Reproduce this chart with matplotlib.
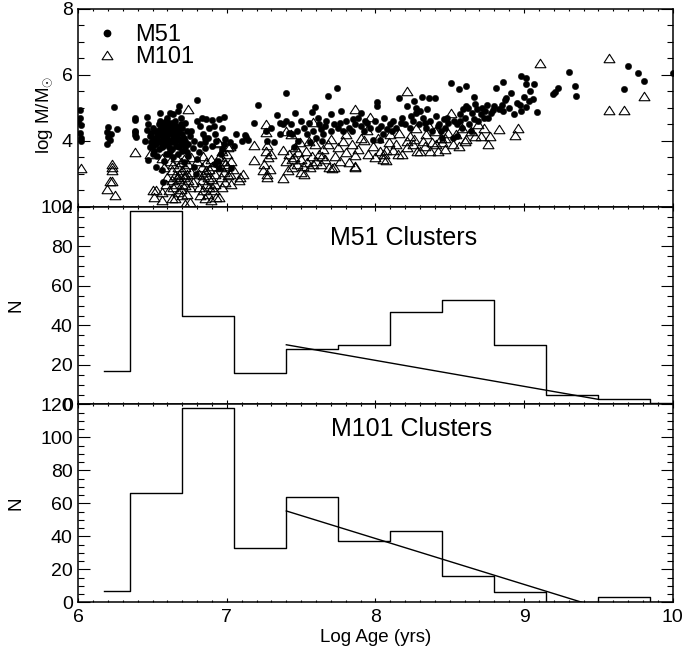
import matplotlib
matplotlib.use("Agg")
import matplotlib.pyplot as plt
from matplotlib.ticker import MultipleLocator
from matplotlib.path import Path
from matplotlib.lines import Line2D

plt.rcParams['font.family'] = ['Liberation Sans', 'DejaVu Sans']
plt.rcParams['mathtext.fontset'] = 'custom'
plt.rcParams['mathtext.rm'] = 'Liberation Sans'

# ---------------- data ----------------
# M51 clusters: log age, log mass
m51_age = [6.01, 6.01, 6.02, 6.01, 6.02, 6.02, 6.00,
           6.19, 6.20, 6.19, 6.21, 6.20, 6.24, 6.26, 6.22,
           6.38, 6.38, 6.38, 6.39, 6.38, 6.38,
           6.46, 6.46, 6.47, 6.48, 6.49, 6.50, 6.50, 6.51, 6.52, 6.52, 6.53, 6.53, 6.54, 6.54,
           6.55, 6.55, 6.55, 6.56, 6.56, 6.57, 6.57, 6.57, 6.58, 6.58, 6.59, 6.59, 6.60, 6.60,
           6.60, 6.61, 6.61, 6.62, 6.62, 6.62, 6.63, 6.63, 6.63, 6.64, 6.64, 6.64, 6.65, 6.65,
           6.65, 6.66, 6.66, 6.66, 6.67, 6.67, 6.67, 6.68, 6.68, 6.68, 6.69, 6.69, 6.70, 6.70,
           6.71, 6.71, 6.72, 6.72, 6.73, 6.74, 6.74, 6.75, 6.58, 6.53, 6.49, 6.45, 6.47, 6.60,
           6.62, 6.55,
           6.48, 6.50, 6.51, 6.52, 6.54, 6.56, 6.57, 6.59, 6.61, 6.63, 6.64, 6.66, 6.68, 6.69,
           6.70, 6.72, 6.73, 6.58, 6.62, 6.66, 6.55, 6.70, 6.60, 6.50, 6.56,
           6.80, 6.77, 6.78, 6.79, 6.80, 6.81, 6.82, 6.83, 6.84, 6.85, 6.85, 6.85, 6.86, 6.87,
           6.88, 6.78, 6.82, 6.76, 6.80,
           6.90, 6.90, 6.92, 6.93, 6.95, 6.95, 6.96, 6.97, 6.98, 6.98, 6.94, 6.92, 6.97, 6.99, 6.91,
           7.02, 7.03, 7.06, 7.12, 7.14, 7.13, 7.21, 7.18, 7.10, 7.05,
           7.26, 7.27, 7.30, 7.34, 7.36, 7.38, 7.40, 7.40, 7.42, 7.43, 7.44, 7.46, 7.47, 7.48,
           7.36, 7.32, 7.45,
           7.52, 7.54, 7.55, 7.57, 7.59, 7.58, 7.60, 7.62, 7.63, 7.65, 7.66, 7.68, 7.70, 7.70,
           7.72, 7.74, 7.75, 7.77, 7.78, 7.76, 7.64, 7.56, 7.67, 7.61, 7.50,
           7.80, 7.82, 7.84, 7.86, 7.88, 7.90, 7.92, 7.94, 7.96, 7.98, 8.00, 8.01, 8.01, 8.03,
           8.04, 8.06, 8.08, 8.10, 8.12, 8.14, 8.16, 8.18, 8.20, 8.21, 7.90, 8.05,
           7.85, 7.93, 8.02, 8.11, 8.17,
           8.23, 8.25, 8.26, 8.27, 8.27, 8.29, 8.31, 8.32, 8.34, 8.36, 8.37, 8.38, 8.40, 8.41,
           8.43, 8.44, 8.46, 8.47, 8.49, 8.30, 8.35, 8.45, 8.24, 8.33, 8.42, 8.48,
           8.51, 8.52, 8.53, 8.55, 8.55, 8.56, 8.57, 8.58, 8.60, 8.61, 8.61, 8.62, 8.63, 8.65,
           8.66, 8.67, 8.68, 8.69, 8.71, 8.72, 8.74, 8.75, 8.76, 8.78, 8.79, 8.80, 8.64, 8.59,
           8.57, 8.66, 8.73,
           8.81, 8.83, 8.85, 8.86, 8.86, 8.87, 8.88, 8.90, 8.91, 8.93, 8.95, 8.97, 8.98, 8.98,
           9.00, 9.01, 9.01, 9.01, 9.03, 9.06, 9.07, 9.09, 9.04,
           9.195, 9.21, 9.23, 9.30, 9.345, 9.35, 9.67, 9.70, 9.77, 9.81, 10.0]
m51_mass = [4.93, 4.70, 4.48, 4.23, 4.10, 4.00, 4.60,
            4.27, 4.13, 3.90, 4.02, 4.43, 5.03, 4.37, 4.20,
            4.63, 4.27, 4.17, 4.13, 4.68, 4.30,
            4.71, 4.34, 3.41, 3.80, 3.95, 3.85, 4.10, 3.70, 3.20, 3.90, 4.05, 4.20, 4.50, 3.75,
            4.83, 4.35, 3.95, 3.10, 4.15, 4.40, 3.85, 2.75, 4.00, 4.25, 3.60, 4.60, 3.90, 4.10,
            4.45, 3.80, 4.30, 4.00, 4.55, 3.70, 4.20, 4.40, 3.95, 4.80, 4.10, 3.50, 4.30, 4.00,
            4.60, 3.85, 4.45, 4.15, 4.25, 3.60, 4.90, 5.05, 4.05, 4.35, 3.90, 4.50, 4.20, 3.70,
            4.10, 3.35, 4.00, 3.80, 4.30, 3.55, 3.90, 4.15, 3.40, 3.55, 4.25, 4.00, 4.50, 4.70,
            4.85, 4.60,
            4.15, 4.40, 3.95, 4.30, 4.00, 3.80, 4.55, 4.15, 3.60, 3.75, 4.55, 4.00, 3.80, 4.70,
            4.40, 4.55, 3.65, 3.95, 4.25, 4.30, 4.20, 3.95, 4.35, 3.60, 4.45,
            5.24, 3.77, 3.20, 3.00, 3.45, 3.65, 4.45, 4.68, 4.22, 4.10, 3.97, 3.77, 4.65, 4.10,
            4.40, 4.00, 3.90, 4.30, 4.60,
            4.63, 3.85, 4.20, 4.00, 4.67, 3.16, 3.60, 4.38, 4.73, 3.90, 3.40, 3.30, 3.75, 4.05, 4.45,
            3.97, 3.16, 4.22, 4.17, 4.02, 4.12, 5.08, 4.53, 4.00, 3.85,
            4.30, 4.00, 4.40, 4.78, 4.55, 4.50, 5.44, 4.60, 4.25, 4.50, 4.20, 4.83, 4.30, 4.00,
            4.20, 3.95, 3.80,
            4.40, 4.20, 4.55, 4.88, 5.03, 4.30, 4.10, 4.50, 4.35, 4.20, 4.45, 5.37, 4.80, 4.30,
            4.50, 5.59, 4.40, 4.90, 4.30, 4.55, 4.00, 3.95, 4.60, 4.70, 4.60,
            4.60, 4.40, 4.30, 4.50, 4.70, 4.45, 4.30, 4.55, 4.40, 4.02, 4.60, 5.18, 5.06, 4.03,
            4.45, 4.70, 4.35, 4.50, 4.60, 4.40, 5.29, 4.70, 4.50, 5.05, 4.85, 4.20,
            4.65, 4.60, 4.35, 4.30, 4.55,
            4.40, 4.60, 5.20, 5.00, 4.85, 4.50, 5.33, 4.70, 4.40, 5.30, 4.60, 4.30, 5.30, 4.75,
            4.50, 4.30, 4.65, 4.40, 4.55, 4.90, 4.95, 4.10, 4.75, 4.55, 4.45, 4.70,
            5.74, 4.10, 4.60, 4.50, 4.15, 5.58, 4.80, 4.40, 4.70, 5.67, 5.06, 5.00, 4.50, 4.85,
            5.34, 5.12, 4.97, 4.60, 4.80, 5.00, 4.90, 5.10, 4.70, 4.85, 4.93, 5.05, 4.30, 4.95,
            4.60, 4.65, 4.70,
            5.60, 4.95, 5.10, 5.78, 4.90, 5.23, 5.31, 5.00, 5.46, 4.80, 5.15, 5.10, 4.90, 5.97,
            5.34, 5.90, 5.71, 5.03, 5.20, 5.26, 5.72, 4.86, 5.50,
            5.42, 5.47, 5.61, 6.10, 5.67, 5.36, 5.58, 6.28, 6.07, 5.82, 6.07]

# M101 clusters: log age, log mass
m101_age = [6.02,
            6.19, 6.21, 6.23, 6.25, 6.23, 6.23, 6.23,
            6.38, 6.48, 6.52, 6.56, 6.56, 6.63, 6.72, 6.74, 6.50, 6.51, 6.56, 6.60,
            6.62, 6.63, 6.63, 6.64, 6.64, 6.65, 6.65, 6.66, 6.66, 6.67, 6.67, 6.68, 6.68, 6.69,
            6.69, 6.70, 6.70, 6.71, 6.71, 6.72, 6.72, 6.73, 6.73, 6.74, 6.74, 6.75, 6.75, 6.76,
            6.76, 6.77, 6.60, 6.61, 6.58, 6.59, 6.67, 6.70, 6.72,
            6.80, 6.81, 6.81, 6.82, 6.83, 6.83, 6.84, 6.84, 6.85, 6.85, 6.86, 6.86, 6.87, 6.87,
            6.88, 6.88, 6.89, 6.89, 6.90, 6.90, 6.91, 6.92, 6.92, 6.93, 6.93, 6.86, 6.90, 6.84,
            6.94, 6.95, 6.95, 6.96, 6.96, 6.97, 6.97, 6.98, 6.98, 6.99, 7.00, 7.00, 7.01, 7.01,
            7.02, 7.02, 7.03, 7.03, 6.95, 7.04, 6.99,
            7.08, 7.09, 7.11, 7.18, 7.18, 7.26, 7.26, 7.26, 7.27, 7.27, 7.27, 7.25, 7.28, 7.29,
            7.30, 7.24,
            7.38, 7.38, 7.40, 7.43, 7.40, 7.42, 7.44, 7.45, 7.46, 7.47, 7.48, 7.50, 7.50, 7.52,
            7.53, 7.54, 7.56, 7.57, 7.58, 7.59, 7.60, 7.55, 7.49, 7.41, 7.44, 7.51, 7.58,
            7.62, 7.63, 7.65, 7.66, 7.68, 7.69, 7.71, 7.72, 7.73, 7.75, 7.76, 7.78, 7.80, 7.82,
            7.84, 7.86, 7.86, 7.86, 7.86, 7.88, 7.90, 7.70, 7.80, 7.64,
            7.92, 7.94, 7.96, 7.95, 7.98, 8.00, 8.02, 8.05, 8.06, 8.07, 8.07, 8.09, 8.10, 8.12,
            8.14, 8.16, 8.18, 8.21, 8.21, 8.21, 8.23, 8.25, 8.27, 8.28, 8.03, 8.15, 8.26,
            8.30, 8.32, 8.34, 8.37, 8.38, 8.40, 8.42, 8.44, 8.45, 8.47, 8.47, 8.49, 8.51, 8.52,
            8.54, 8.56, 8.58, 8.60, 8.61, 8.36, 8.33, 8.41,
            8.64, 8.67, 8.71, 8.76, 8.77, 8.83, 8.94, 8.96, 8.69, 8.73,
            9.11, 9.57, 9.57, 9.67, 9.81]
m101_mass = [3.16,
             2.55, 2.77, 2.77, 2.35, 3.30, 3.20, 3.10,
             3.67, 3.60, 2.50, 2.45, 2.20, 2.27, 2.09, 4.95, 2.50, 2.30, 3.48, 4.40,
             3.40, 3.10, 2.80, 2.60, 3.30, 2.25, 2.95, 3.50, 2.70, 3.20, 2.45, 3.00, 2.85, 3.35,
             2.55, 3.10, 2.35, 2.90, 3.45, 2.65, 3.20, 3.00, 2.40, 2.80, 3.30, 2.15, 2.60, 3.05,
             3.50, 2.75, 2.90, 2.50, 3.20, 2.70, 2.90, 2.70, 2.95,
             3.40, 3.00, 2.60, 2.35, 3.20, 2.80, 3.55, 2.50, 2.25, 3.05, 2.70, 3.35, 2.90, 2.40,
             3.15, 2.60, 3.45, 2.20, 2.85, 3.25, 2.50, 3.00, 2.70, 3.35, 2.30, 3.10, 2.60, 2.95,
             3.97, 3.92, 3.50, 3.20, 2.90, 3.70, 2.60, 3.40, 3.05, 2.75, 3.60, 3.25, 2.95, 3.80,
             3.85, 3.00, 3.40, 2.70, 2.30, 3.15, 3.30,
             2.80, 2.90, 3.00, 3.87, 3.43, 4.50, 4.27, 3.70, 3.87, 3.00, 2.90, 3.30, 3.50, 3.15,
             3.60, 3.10,
             2.86, 3.72, 4.30, 4.20, 3.40, 3.60, 3.20, 3.50, 3.80, 3.30, 3.65, 3.06, 3.45, 3.00,
             3.70, 3.35, 3.20, 3.55, 4.58, 3.90, 3.40, 4.00, 3.95, 3.10, 3.45, 3.25, 3.30,
             3.60, 3.30, 3.75, 3.45, 3.90, 3.20, 3.16, 3.20, 3.55, 3.80, 3.40, 4.00, 3.65, 3.35,
             3.90, 4.98, 3.24, 3.20, 3.56, 3.75, 4.10, 4.05, 4.20, 3.55,
             4.02, 4.33, 4.73, 3.60, 3.85, 3.50, 4.10, 3.46, 3.60, 3.41, 3.72, 3.95, 4.20, 3.72,
             3.90, 4.25, 3.60, 5.51, 4.00, 3.80, 4.15, 3.90, 4.40, 3.70, 3.70, 3.60, 4.05,
             3.70, 4.00, 4.20, 3.70, 3.95, 4.30, 3.70, 4.10, 3.95, 4.07, 3.74, 4.25, 4.83, 3.90,
             4.20, 3.85, 4.40, 4.00, 4.04, 4.45, 3.85, 3.90,
             4.30, 4.16, 4.15, 3.89, 4.16, 4.36, 4.18, 4.38, 4.50, 4.40,
             6.37, 6.52, 4.93, 4.93, 5.36]

# age histograms (bin centres, bin width 0.35 dex)
bin_centres = [6.175, 6.525, 6.875, 7.225, 7.575, 7.925, 8.275, 8.625, 8.975, 9.325, 9.675, 10.025]
m51_counts = [17, 98, 45, 16, 28, 30, 47, 53, 30, 5, 3, 1]
m101_counts = [7, 66, 118, 33, 64, 37, 43, 16, 6, 0, 3, 0]

# fitted declines
fit_age = [7.40, 9.50]
fit_m51 = [30.2, 2.6]
fit_m101 = [55.4, -3.1]

# ---------------- figure ----------------
fig = plt.figure(figsize=(6.85, 6.54), dpi=100)
left, width = 0.1143, 0.8677
bottom0, h = 0.0791, 0.3024
ax_top = fig.add_axes([left, bottom0 + 2 * h, width, h])
ax_mid = fig.add_axes([left, bottom0 + h, width, h])
ax_bot = fig.add_axes([left, bottom0, width, h])

tri = Path([(-1, -0.78), (1, -0.78), (0, 0.78), (-1, -0.78)],
           [Path.MOVETO, Path.LINETO, Path.LINETO, Path.CLOSEPOLY])

ax_top.plot(m101_age, m101_mass, linestyle='none', marker=tri, markersize=7.8,
            markerfacecolor='none', markeredgecolor='black', markeredgewidth=0.8)
ax_top.plot(m51_age, m51_mass, linestyle='none', marker='o', markersize=4.6,
            markerfacecolor='black', markeredgecolor='black', markeredgewidth=0.3)
ax_top.set_ylim(2, 8)
ax_top.set_ylabel(r'log M/M$_{\odot}$', fontsize=13.5)
ax_top.yaxis.set_label_coords(-0.040, 0.463)

handles = [Line2D([], [], linestyle='none', marker='o', markersize=4.6, color='black'),
           Line2D([], [], linestyle='none', marker=tri, markersize=7.8,
                  markerfacecolor='none', markeredgecolor='black', markeredgewidth=0.8)]
ax_top.legend(handles, ['M51', 'M101'], loc='upper left', bbox_to_anchor=(0.010, 0.97),
              frameon=False, fontsize=17, handlelength=1.1, handletextpad=0.65,
              labelspacing=0.0, borderaxespad=0.0)

ax_mid.step(bin_centres, m51_counts, where='mid', color='black', linewidth=1.0)
ax_mid.plot(fit_age, fit_m51, color='black', linewidth=1.0)
ax_mid.set_ylim(0, 100)
ax_mid.set_ylabel('N', fontsize=13.5)
ax_mid.yaxis.set_label_coords(-0.09, 0.5)
ax_mid.text(0.548, 0.84, 'M51 Clusters', transform=ax_mid.transAxes, fontsize=18,
            ha='center', va='center')

ax_bot.step(bin_centres, m101_counts, where='mid', color='black', linewidth=1.0)
ax_bot.plot(fit_age, fit_m101, color='black', linewidth=1.0)
ax_bot.set_ylim(0, 120)
ax_bot.set_ylabel('N', fontsize=13.5)
ax_bot.yaxis.set_label_coords(-0.09, 0.5)
ax_bot.text(0.561, 0.878, 'M101 Clusters', transform=ax_bot.transAxes, fontsize=18,
            ha='center', va='center')
ax_bot.set_xlabel('Log Age (yrs)', fontsize=13.5, labelpad=2)

for ax, ymaj, ymin in [(ax_top, 2, 0.5), (ax_mid, 20, 5), (ax_bot, 20, 5)]:
    ax.set_xlim(6, 10)
    ax.xaxis.set_major_locator(MultipleLocator(1))
    ax.xaxis.set_minor_locator(MultipleLocator(0.1))
    ax.yaxis.set_major_locator(MultipleLocator(ymaj))
    ax.yaxis.set_minor_locator(MultipleLocator(ymin))
    ax.tick_params(axis='both', which='both', direction='in', top=True, right=True,
                   labelsize=14, width=0.8)
    ax.tick_params(axis='x', which='major', length=3.2, pad=5)
    ax.tick_params(axis='x', which='minor', length=1.6)
    ax.tick_params(axis='y', which='major', length=8.6, pad=4)
    ax.tick_params(axis='y', which='minor', length=4.3)
    for s in ax.spines.values():
        s.set_linewidth(1.1)
    if ax is not ax_bot:
        ax.tick_params(axis='x', labelbottom=False)

fig.savefig('out.png', dpi=100)
